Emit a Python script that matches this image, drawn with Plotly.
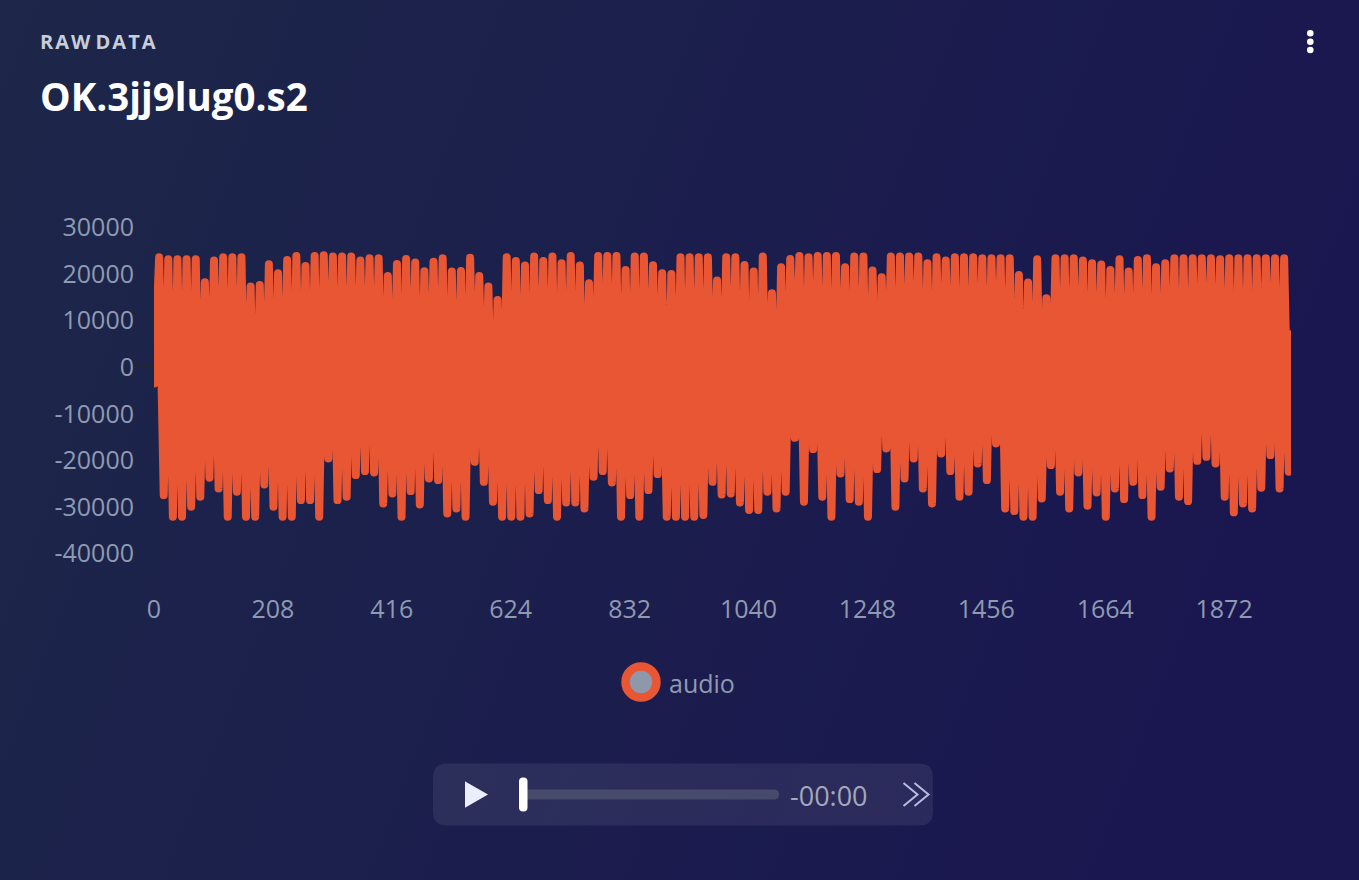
import base64
import plotly.graph_objects as go

# ---------------- data ----------------
start_value = -3500
end_value = 7070
peak_values = [
    23570, 23140, 23140, 23140, 23140, 18210, 22860, 23570, 23570, 23570, 17290, 17640, 22070, 20140, 23000, 23860,
    21720, 23860, 24000, 23720, 23720, 23720, 22860, 23360, 23360, 19570, 22140, 23210, 22430, 20570, 22640,
    23360, 20500, 20650, 23500, 19570, 17290, 14430, 23570, 22790, 21790, 23720, 22790, 23720, 22290, 23860, 21790,
    18000, 23860, 23860, 23860, 20860, 23720, 23720, 21860, 20140, 20000, 23570, 23570, 23570, 23570, 18570, 23570,
    23570, 21930, 20500, 23720, 15860, 21430, 23210, 23860, 23570, 23860, 23860, 23860, 21430, 23720,
    23720, 20720, 19290, 23720, 23720, 23720, 23720, 22290, 23570, 22860, 23570, 23570, 23570, 23360, 23360, 23360,
    23360, 19790, 18140, 23140, 14790, 23360, 23360, 23360, 22860, 22290, 22000, 20860, 23140, 20500, 23000, 23360,
    21430, 22290, 23360, 23360, 23360, 23360, 23360, 23140, 23360, 23360, 23360, 23360, 23360, 23360, 23360,
]
trough_values = [
    -27430, -32070, -32070, -29930, -27790, -23720, -26000, -32070, -26720, -32070, -32070, -25150, -29930, -32070,
    -32070, -28500, -28500, -32070, -19580, -28500, -27790, -23150, -22290, -22580, -29220, -27080, -32070, -26580,
    -29430, -23870, -24220,
    -31360, -30290, -32070, -20290, -24580, -28860, -32070, -32070, -32070, -31360, -26360, -28500, -32070, -29000,
    -29000, -30290, -23500, -22290, -24720, -32070, -27430, -32070, -26360, -22930, -32070, -32070, -32070, -32070,
    -31710, -24580, -27290, -27080, -29000, -30640, -30640, -26720, -30290, -26720, -15150, -28860, -17570, -27790,
    -32070, -22790, -28290, -28860,
    -32070, -21860, -17430, -29930, -23870, -19580, -26000, -29220, -18500, -22290, -27790, -26720, -20650, -24220,
    -16360, -30290, -30860, -32070, -32070, -28140, -21000, -26720, -30290, -22580, -29720, -26860, -32070, -26000,
    -28290, -24580, -27430, -32070, -25650, -21720, -27790, -28720, -20080, -19220, -20650, -27790, -31140, -29220,
    -30290, -25860, -18860, -26000, -22430,
]
first_peak_sample = 9
half_period = 8
last_sample = 1989
x_tick_step = 208
y_tick_values = [-40000, -30000, -20000, -10000, 0, 10000, 20000, 30000]
series_name = "audio"
header_text = "RAW DATA"
title_text = "OK.3jj9lug0.s2"
time_text = "-00:00"

# build the sample sequence (sample index, value)
xs = [0]
ys = [start_value]
for k, (p, t) in enumerate(zip(peak_values, trough_values)):
    xs.append(first_peak_sample + 2 * half_period * k)
    ys.append(p)
    xs.append(first_peak_sample + 2 * half_period * k + half_period)
    ys.append(t)
xs.append(last_sample)
ys.append(end_value)

# ---------------- layout geometry ----------------
W, H = 1359, 880
L, R, T, B = 154, 1291, 218, 563
PW, PH = R - L, B - T


def X(px):
    return (px - L) / PW


def Y(py):
    return (B - py) / PH


ORANGE = "#e85634"
TICK = "#8f9ab0"
FONT = "Open Sans"

fig = go.Figure()
fig.add_trace(go.Scatter(
    x=xs, y=ys, mode="lines", name=series_name,
    line=dict(color=ORANGE, width=8), hoverinfo="skip", showlegend=False,
))

# background gradient
svg = (
    f'<svg xmlns="http://www.w3.org/2000/svg" width="{W}" height="{H}" preserveAspectRatio="none">'
    '<defs><linearGradient id="g" x1="0" y1="0" x2="1" y2="0.25">'
    '<stop offset="0" stop-color="#1d2749"/><stop offset="1" stop-color="#1a1750"/>'
    '</linearGradient></defs>'
    f'<rect width="{W}" height="{H}" fill="url(#g)"/></svg>'
)
bg_uri = "data:image/svg+xml;base64," + base64.b64encode(svg.encode()).decode()

shapes = []


def rrect(x0, y0, x1, y1, r):
    return (f"M {X(x0 + r)},{Y(y0)} L {X(x1 - r)},{Y(y0)} Q {X(x1)},{Y(y0)} {X(x1)},{Y(y0 + r)} "
            f"L {X(x1)},{Y(y1 - r)} Q {X(x1)},{Y(y1)} {X(x1 - r)},{Y(y1)} "
            f"L {X(x0 + r)},{Y(y1)} Q {X(x0)},{Y(y1)} {X(x0)},{Y(y1 - r)} "
            f"L {X(x0)},{Y(y0 + r)} Q {X(x0)},{Y(y0)} {X(x0 + r)},{Y(y0)} Z")


# zero line stub left of the data
shapes.append(dict(type="line", xref="paper", yref="y", x0=X(135), x1=X(156), y0=0, y1=0,
                   line=dict(color="#24262f", width=2), layer="below"))

# kebab menu
for cy in (33.3, 41.7, 50.0):
    shapes.append(dict(type="circle", xref="paper", yref="paper", x0=X(1307), x1=X(1313.6),
                       y0=Y(cy + 3.3), y1=Y(cy - 3.3), fillcolor="white", line=dict(width=0)))

# legend marker (ring)
cx, cy, rr = 641, 682, 15.5
shapes.append(dict(type="circle", xref="paper", yref="paper", x0=X(cx - rr), x1=X(cx + rr),
                   y0=Y(cy + rr), y1=Y(cy - rr), fillcolor="#8e98aa", line=dict(color=ORANGE, width=8.5)))

# audio player
shapes.append(dict(type="path", xref="paper", yref="paper", path=rrect(433, 763.5, 933, 825.5, 14),
                   fillcolor="rgba(255,255,255,0.075)", line=dict(width=0)))
shapes.append(dict(type="path", xref="paper", yref="paper",
                   path=f"M {X(466)},{Y(783)} L {X(486)},{Y(794.5)} L {X(466)},{Y(806)} Z",
                   fillcolor="#e9effc", line=dict(color="#e9effc", width=2)))
shapes.append(dict(type="path", xref="paper", yref="paper", path=rrect(522, 789.5, 779, 799.5, 5),
                   fillcolor="#464a6b", line=dict(width=0)))
shapes.append(dict(type="path", xref="paper", yref="paper", path=rrect(519, 777.5, 527.5, 811.5, 4),
                   fillcolor="#ffffff", line=dict(width=0)))
for x0 in (903.5, 914.5):
    shapes.append(dict(type="path", xref="paper", yref="paper",
                       path=f"M {X(x0)},{Y(783)} L {X(x0 + 14)},{Y(794.5)} L {X(x0)},{Y(806)}",
                       line=dict(color="#b8bce0", width=2)))

hair = "\u200a"
spaced_header = " ".join(hair.join(list(w)) for w in header_text.split(" "))
annotations = [
    dict(text=f"<b>{spaced_header}</b>", x=X(38), y=Y(42), xanchor="left", yanchor="middle",
         font=dict(family=FONT, size=20, color="#c9cdd8")),
    dict(text=f"<b>{title_text}</b>", x=X(38), y=Y(96), xanchor="left", yanchor="middle",
         font=dict(family=FONT, size=38.5, color="#ffffff")),
    dict(text=series_name, x=X(667), y=Y(683), xanchor="left", yanchor="middle",
         font=dict(family=FONT, size=25, color=TICK)),
    dict(text=time_text, x=X(788), y=Y(795), xanchor="left", yanchor="middle",
         font=dict(family=FONT, size=27, color="#a3a8ba")),
]
for a in annotations:
    a.update(xref="paper", yref="paper", showarrow=False)

fig.update_layout(
    width=W, height=H,
    margin=dict(l=L, r=W - R, t=T, b=H - B, pad=0),
    paper_bgcolor="#1c1f4c", plot_bgcolor="rgba(0,0,0,0)",
    font=dict(family=FONT, color=TICK),
    showlegend=False, hovermode=False,
    images=[dict(source=bg_uri, xref="paper", yref="paper", x=X(0), y=Y(0), sizex=W / PW, sizey=H / PH,
                 xanchor="left", yanchor="top", sizing="stretch", layer="below")],
    shapes=shapes, annotations=annotations,
    xaxis=dict(range=[0, last_sample], tickmode="linear", tick0=0, dtick=x_tick_step,
               showgrid=False, zeroline=False, showline=False, ticks="",
               tickfont=dict(family=FONT, size=25, color=TICK), ticklabelstandoff=29),
    yaxis=dict(range=[-42000, 32000], tickmode="array", tickvals=y_tick_values,
               ticktext=[str(v) for v in y_tick_values],
               showgrid=False, zeroline=True, zerolinecolor="#24262f", zerolinewidth=2, showline=False,
               ticks="", tickfont=dict(family=FONT, size=25, color=TICK), ticklabelstandoff=19),
)

post = (
    "document.body.style.margin='0';"
    "document.body.style.background='#1c1f4c';"
    "var s=document.createElement('style');"
    "s.textContent='.js-line{stroke-linejoin:round!important;stroke-linecap:round!important}';"
    "document.head.appendChild(s);"
)
fig.write_html("out.html", config={"displayModeBar": False}, post_script=post)
